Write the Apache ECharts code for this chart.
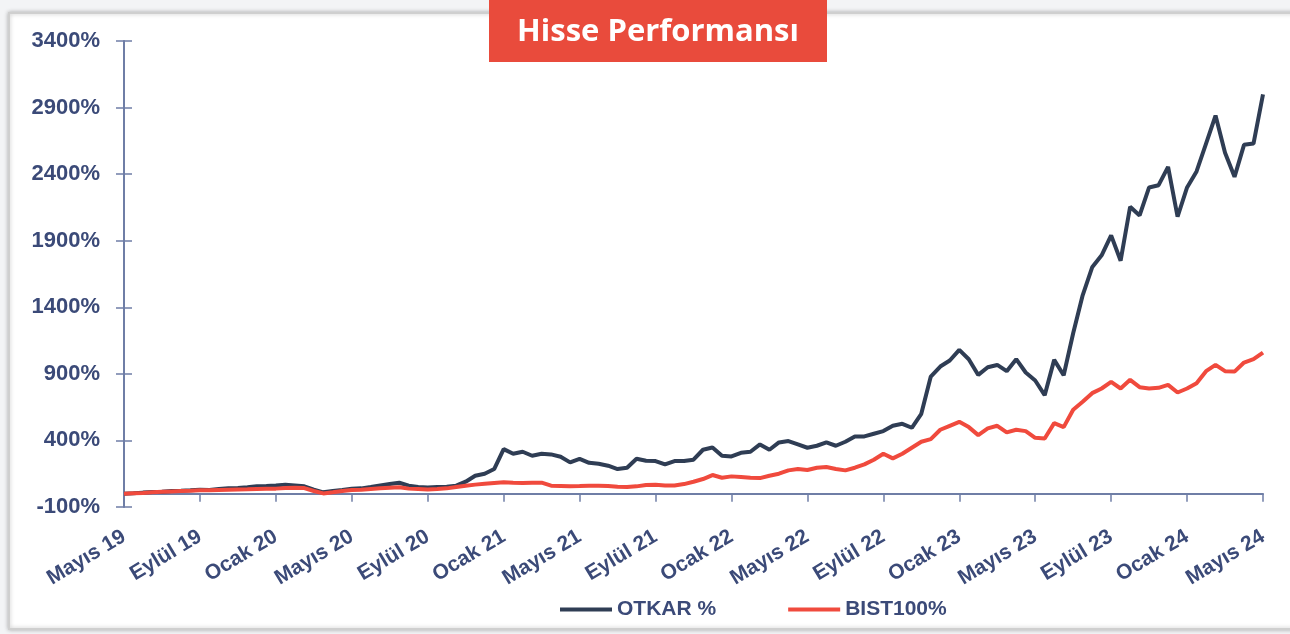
<!DOCTYPE html>
<html>
<head>
<meta charset="utf-8">
<script src="https://cdn.jsdelivr.net/npm/echarts@6/dist/echarts.min.js"></script>
<style>
  html, body { margin: 0; padding: 0; background: #f3f4f6; }
  #chart { width: 1290px; height: 634px; }
</style>
</head>
<body>
<div id="chart"></div>
<script>
// half-month steps from May 2019 to May 2024 (121 points)
const tickLabels = ['Mayıs 19', 'Eylül 19', 'Ocak 20', 'Mayıs 20', 'Eylül 20', 'Ocak 21', 'Mayıs 21', 'Eylül 21',
    'Ocak 22', 'Mayıs 22', 'Eylül 22', 'Ocak 23', 'Mayıs 23', 'Eylül 23', 'Ocak 24', 'Mayıs 24'];

// OTKAR % (return since start)
const otkar = [
    0, 3, 8, 12, 15, 20, 22, 25, 30, 28,
    35, 40, 42, 48, 55, 58, 62, 68, 62, 55,
    30, 10, 20, 28, 37, 40, 50, 62, 72, 82,
    60, 50, 47, 50, 52, 60, 90, 135, 150, 185,
    335, 300, 315, 285, 300, 295, 277, 235, 262, 232,
    225, 210, 185, 195, 262, 247, 245, 220, 245, 245,
    255, 330, 347, 285, 280, 307, 315, 370, 330, 385,
    395, 370, 345, 360, 385, 360, 390, 430, 430, 450,
    470, 510, 525, 495, 600, 880, 955, 1000, 1080, 1010,
    892, 950, 967, 920, 1010, 910, 850, 740, 1005, 890,
    1205, 1490, 1700, 1790, 1940, 1750, 2155, 2090, 2300, 2317,
    2455, 2080, 2300, 2420, 2630, 2840, 2560, 2380, 2620, 2630,
    3000
];

// BIST100 % (return since start)
const bist100 = [
    0, 3, 6, 10, 14, 17, 20, 22, 25, 25,
    28, 30, 32, 33, 35, 37, 38, 42, 45, 42,
    20, 2, 10, 20, 28, 30, 35, 40, 45, 48,
    38, 35, 32, 35, 40, 50, 60, 68, 75, 80,
    85, 82, 80, 82, 83, 60, 58, 55, 57, 60,
    60, 58, 52, 50, 55, 65, 67, 62, 62, 72,
    90, 110, 140, 120, 130, 125, 120, 117, 135, 150,
    175, 185, 178, 195, 200, 185, 175, 195, 220, 255,
    300, 265, 300, 345, 390, 410, 480, 510, 540, 500,
    440, 490, 510, 460, 480, 470, 420, 415, 530, 500,
    630, 690, 755, 790, 840, 790, 855, 800, 790, 795,
    817, 760, 790, 830, 920, 967, 920, 917, 985, 1010,
    1060
];

const steps = otkar.map((v, i) => i);

const chartDom = document.getElementById('chart');
const myChart = echarts.init(chartDom);

const labelColor = '#3b4a78';
const axisColor = '#6f7ea6';
const labelFont = '"Liberation Sans", Arial, sans-serif';

const option = {
    backgroundColor: '#f3f4f6',
    animation: false,
    graphic: [
        {
            type: 'rect',
            shape: { x: 9, y: 13, width: 1290, height: 616 },
            style: { fill: '#ffffff', stroke: '#cfcfcf', lineWidth: 2, shadowBlur: 4, shadowColor: 'rgba(0,0,0,0.25)' },
            z: -10
        },
        {
            type: 'rect',
            shape: { x: 489, y: 0, width: 338, height: 62 },
            style: { fill: '#e94b3c' },
            z: 10
        },
        {
            type: 'text',
            x: 658,
            y: 32,
            style: {
                text: 'Hisse Performansı',
                fill: '#ffffff',
                font: 'bold 31px "Open Sans", sans-serif',
                textAlign: 'center',
                textVerticalAlign: 'middle'
            },
            z: 11
        }
    ],
    legend: {
        bottom: 9,
        left: 555,
        icon: 'rect',
        itemWidth: 52,
        itemHeight: 4,
        itemGap: 72,
        textStyle: {
            color: labelColor,
            fontSize: 21,
            fontWeight: 'bold',
            fontFamily: labelFont
        },
        data: ['OTKAR %', 'BIST100%']
    },
    grid: {
        left: 124,
        right: 27,
        top: 41,
        bottom: 127
    },
    xAxis: [
        {
            type: 'category',
            data: steps,
            boundaryGap: false,
            axisLine: { onZero: true, lineStyle: { color: axisColor, width: 2 } },
            axisTick: { interval: 7, length: 8, lineStyle: { color: axisColor, width: 1.5 } },
            axisLabel: {
                interval: 7,
                rotate: 31,
                margin: 28,
                color: labelColor,
                fontSize: 21,
                fontWeight: 'bold',
                fontFamily: labelFont,
                formatter: (val, idx) => tickLabels[idx / 8]
            },
            splitLine: { show: false }
        },
        {
            type: 'category',
            data: steps,
            boundaryGap: false,
            axisLine: { show: false, onZero: true, onZeroAxisIndex: 1 },
            axisTick: { inside: true, interval: 7, length: 8, lineStyle: { color: axisColor, width: 1.5 } },
            axisLabel: { show: false },
            splitLine: { show: false }
        }
    ],
    yAxis: [
        {
            type: 'value',
            min: -100,
            max: 3400,
            interval: 500,
            axisLine: { show: true, lineStyle: { color: axisColor, width: 2 } },
            axisTick: { show: true, length: 8, lineStyle: { color: axisColor, width: 1.5 } },
            axisLabel: {
                margin: 24,
                color: labelColor,
                fontSize: 22,
                fontWeight: 'bold',
                fontFamily: labelFont,
                formatter: (val) => val + '%'
            },
            splitLine: { show: false }
        },
        {
            type: 'value',
            min: -100,
            max: 3400,
            interval: 500,
            position: 'left',
            axisLine: { show: false },
            axisTick: { show: true, inside: true, length: 8, lineStyle: { color: axisColor, width: 1.5 } },
            axisLabel: { show: false },
            splitLine: { show: false }
        }
    ],
    series: [
        {
            name: 'OTKAR %',
            type: 'line',
            data: otkar,
            showSymbol: false,
            symbol: 'none',
            lineStyle: { color: '#2f3d54', width: 4 },
            itemStyle: { color: '#2f3d54' },
            z: 3
        },
        {
            name: 'BIST100%',
            type: 'line',
            data: bist100,
            showSymbol: false,
            symbol: 'none',
            lineStyle: { color: '#f04a3d', width: 4 },
            itemStyle: { color: '#f04a3d' },
            z: 4
        }
    ]
};

myChart.setOption(option);

window.addEventListener('resize', () => {
    myChart.resize();
});
</script>
</body>
</html>
